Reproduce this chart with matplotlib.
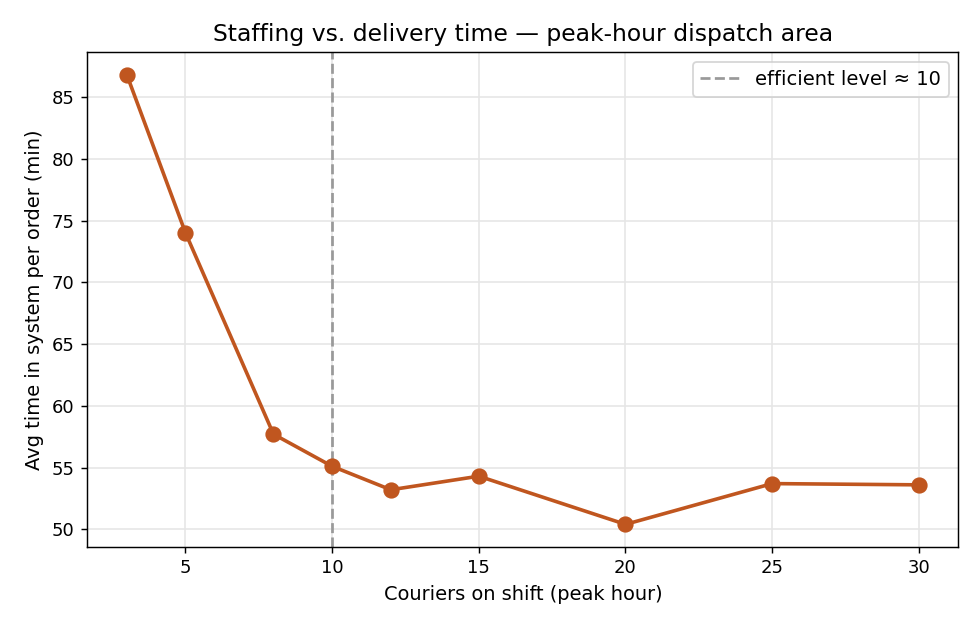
import matplotlib.pyplot as plt

couriers = [3, 5, 8, 10, 12, 15, 20, 25, 30]
avg_time = [86.8, 74.0, 57.7, 55.1, 53.2, 54.3, 50.4, 53.7, 53.6]
efficient_level = 10

fig, ax = plt.subplots(figsize=(980 / 130, 630 / 130), dpi=130)
ax.plot(couriers, avg_time, color="#c0561f", linewidth=2, marker="o", markersize=8, zorder=3)
ax.axvline(efficient_level, color="#999999", linestyle="--", linewidth=1.5,
           label="efficient level \u2248 %d" % efficient_level, zorder=2)
ax.grid(True, color="#e6e6e6", linewidth=0.9)
ax.set_axisbelow(True)
ax.set_xlabel("Couriers on shift (peak hour)", fontsize=10.75)
ax.set_ylabel("Avg time in system per order (min)", fontsize=10.75)
ax.set_title("Staffing vs. delivery time \u2014 peak-hour dispatch area", fontsize=13)
ax.set_xticks([5, 10, 15, 20, 25, 30])
ax.legend(loc="upper right", fontsize=10.8)
fig.subplots_adjust(left=0.089, right=0.978, top=0.917, bottom=0.132)
fig.savefig("out.png")
